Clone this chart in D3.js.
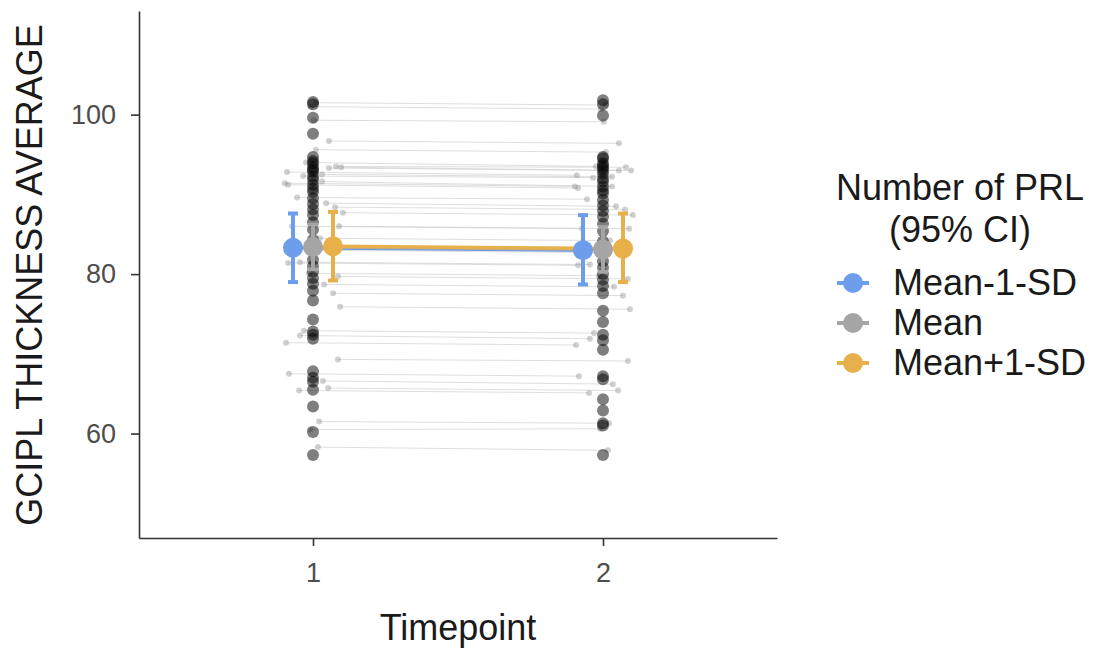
<!DOCTYPE html>
<html>
<head>
<meta charset="utf-8">
<script src="https://cdn.jsdelivr.net/npm/d3@7"></script>
<style>
  body { margin: 0; background: #fff; }
  svg text { font-family: "Liberation Sans", Arial, Helvetica, sans-serif; }
</style>
</head>
<body>
<div id="chart"></div>
<script>
// raw values per subject (dark points)
const raw1 = [101.6,101.3,99.6,97.6,94.7,94.2,93.9,93.4,93.1,92.8,92.2,91.8,91.2,90.7,90.3,89.5,88.8,88.1,87.4,86.5,85.6,84.3,83.0,81.8,81.0,80.3,79.5,78.8,77.9,76.7,74.3,72.8,71.9,72.4,67.8,67.0,66.5,65.5,63.4,60.2,57.3];
const raw2 = [101.8,101.3,99.9,94.7,94.5,93.9,93.6,93.3,93.0,92.6,92.0,91.6,91.0,90.5,90.1,89.3,88.6,87.9,87.2,86.3,85.4,84.1,82.8,81.6,80.8,80.0,79.3,78.5,77.6,75.4,74.0,72.4,71.7,70.5,67.2,66.8,64.3,62.9,61.3,61.0,57.3];
// jittered copies (small points joined by lines)
const jitterDx = [0.010,-0.007,0.003,0.055,0.010,-0.024,0.055,0.079,0.097,-0.090,-0.034,0.031,-0.097,-0.086,0.031,-0.055,0.045,0.076,0.103,-0.072,0.090,0.024,-0.010,-0.045,-0.086,-0.014,0.086,0.038,0.069,0.093,-0.031,-0.045,-0.093,0.086,-0.083,0.034,-0.048,0.052,0.021,-0.010,0.017];
const jitter1 = [101.5,101.0,99.3,96.7,95.6,94.0,93.3,93.5,93.4,92.8,92.3,92.5,91.4,91.2,91.6,89.6,88.9,88.4,87.7,86.0,86.0,84.5,83.0,81.5,81.4,80.1,79.7,78.7,77.6,75.9,72.9,72.3,71.4,69.3,67.5,66.6,65.4,65.7,61.5,60.5,58.3];
const jitter2 = [101.2,100.7,99.1,96.4,95.3,93.5,93.0,93.4,93.0,92.4,92.1,92.2,91.0,90.8,91.0,89.4,88.5,88.1,87.4,85.7,85.7,84.2,82.7,81.2,81.1,79.8,79.4,78.4,77.3,75.6,72.6,71.9,71.1,69.1,67.2,66.2,65.1,65.4,61.3,60.6,57.9];

// model estimates by PRL level
const groups = ["Mean-1-SD", "Mean", "Mean+1-SD"];
const colors = ["#6d9eeb", "#a5a5a5", "#e8b04b"];
const estT1 = [83.3, 83.4, 83.5];
const estT2 = [83.0, 83.1, 83.2];
const lowT1 = [79.0, 80.6, 79.2];
const highT1 = [87.6, 86.2, 87.8];
const lowT2 = [78.7, 80.3, 79.0];
const highT2 = [87.4, 85.9, 87.6];

const timepoints = [1, 2];
const yTicks = [60, 80, 100];

const svg = d3.select("#chart").append("svg")
    .attr("width", 1103)
    .attr("height", 651);

const xScale = d3.scaleLinear().domain([0.4, 2.6]).range([139, 777]);
const yScale = d3.scaleLinear().domain([46.9, 113.0]).range([538, 11]);
const dodge = 0.069;

const subjects = raw1.map((v, i) => ({
    raw: [v, raw2[i]],
    jit: [jitter1[i], jitter2[i]],
    dx: jitterDx[i]
}));

// subject lines
svg.append("g").selectAll("line")
    .data(subjects)
    .enter().append("line")
    .attr("x1", d => xScale(1 + d.dx))
    .attr("x2", d => xScale(2 + d.dx))
    .attr("y1", d => yScale(d.jit[0]))
    .attr("y2", d => yScale(d.jit[1]))
    .attr("stroke", "#c8c8c8")
    .attr("stroke-opacity", 0.6)
    .attr("stroke-width", 1);

// jittered small points
const small = svg.append("g");
timepoints.forEach((t, ti) => {
    small.selectAll(".s" + t)
        .data(subjects)
        .enter().append("circle")
        .attr("cx", d => xScale(t + d.dx))
        .attr("cy", d => yScale(d.jit[ti]))
        .attr("r", 3)
        .attr("fill", "#8a8a8a")
        .attr("fill-opacity", 0.4);
});

// raw points
const rawG = svg.append("g");
timepoints.forEach((t, ti) => {
    rawG.selectAll(".r" + t)
        .data(subjects)
        .enter().append("circle")
        .attr("cx", xScale(t))
        .attr("cy", d => yScale(d.raw[ti]))
        .attr("r", 6)
        .attr("fill", "#000")
        .attr("fill-opacity", 0.5);
});

// estimates
const est = groups.map((g, i) => ({
    group: g,
    color: colors[i],
    off: (i - 1) * dodge,
    pts: [
        { t: 1, y: estT1[i], lo: lowT1[i], hi: highT1[i] },
        { t: 2, y: estT2[i], lo: lowT2[i], hi: highT2[i] }
    ]
}));

const estG = svg.append("g");
est.forEach(e => {
    estG.append("path")
        .datum(e.pts)
        .attr("fill", "none")
        .attr("stroke", e.color)
        .attr("stroke-width", 3.5)
        .attr("d", d3.line().x(p => xScale(p.t + e.off)).y(p => yScale(p.y)));
});
est.forEach(e => {
    e.pts.forEach(p => {
        const cx = xScale(p.t + e.off);
        estG.append("line")
            .attr("x1", cx).attr("x2", cx)
            .attr("y1", yScale(p.lo)).attr("y2", yScale(p.hi))
            .attr("stroke", e.color).attr("stroke-width", 4);
        [p.lo, p.hi].forEach(v => {
            estG.append("line")
                .attr("x1", cx - 5).attr("x2", cx + 5)
                .attr("y1", yScale(v)).attr("y2", yScale(v))
                .attr("stroke", e.color).attr("stroke-width", 4);
        });
        estG.append("circle")
            .attr("cx", cx).attr("cy", yScale(p.y))
            .attr("r", 10)
            .attr("fill", e.color);
    });
});

// axes
const xAxis = svg.append("g")
    .attr("transform", "translate(0,538)")
    .call(d3.axisBottom(xScale).tickValues(timepoints).tickSizeInner(8).tickSizeOuter(0).tickPadding(17).tickFormat(d3.format("d")));
const yAxis = svg.append("g")
    .attr("transform", "translate(139,0)")
    .call(d3.axisLeft(yScale).tickValues(yTicks).tickSizeInner(8).tickSizeOuter(0).tickPadding(15));
[xAxis, yAxis].forEach(a => {
    a.select(".domain").attr("stroke", "#333").attr("stroke-width", 1.6);
    a.selectAll(".tick line").attr("stroke", "#333").attr("stroke-width", 1.6);
    a.selectAll(".tick text").attr("fill", "#4d4d4d").style("font-size", "27px");
});

svg.append("text")
    .attr("x", 458)
    .attr("y", 640)
    .attr("text-anchor", "middle")
    .style("font-size", "36px")
    .attr("fill", "#1a1a1a")
    .text("Timepoint");

svg.append("text")
    .attr("transform", "translate(42,275) rotate(-90)")
    .attr("text-anchor", "middle")
    .style("font-size", "36px")
    .attr("fill", "#1a1a1a")
    .text("GCIPL THICKNESS AVERAGE");

// legend
const legend = svg.append("g");
legend.append("text")
    .attr("x", 960).attr("y", 200)
    .attr("text-anchor", "middle")
    .style("font-size", "36px").attr("fill", "#1a1a1a")
    .text("Number of PRL");
legend.append("text")
    .attr("x", 960).attr("y", 242)
    .attr("text-anchor", "middle")
    .style("font-size", "36px").attr("fill", "#1a1a1a")
    .text("(95% CI)");

const items = legend.selectAll(".item")
    .data(est)
    .enter().append("g")
    .attr("transform", (d, i) => "translate(853," + (283 + i * 40) + ")");
items.append("line")
    .attr("x1", -16).attr("x2", 16)
    .attr("stroke", d => d.color).attr("stroke-width", 4);
items.append("circle")
    .attr("r", 10)
    .attr("fill", d => d.color);
items.append("text")
    .attr("x", 40).attr("y", 12)
    .style("font-size", "36px").attr("fill", "#1a1a1a")
    .text(d => d.group);
</script>
</body>
</html>
